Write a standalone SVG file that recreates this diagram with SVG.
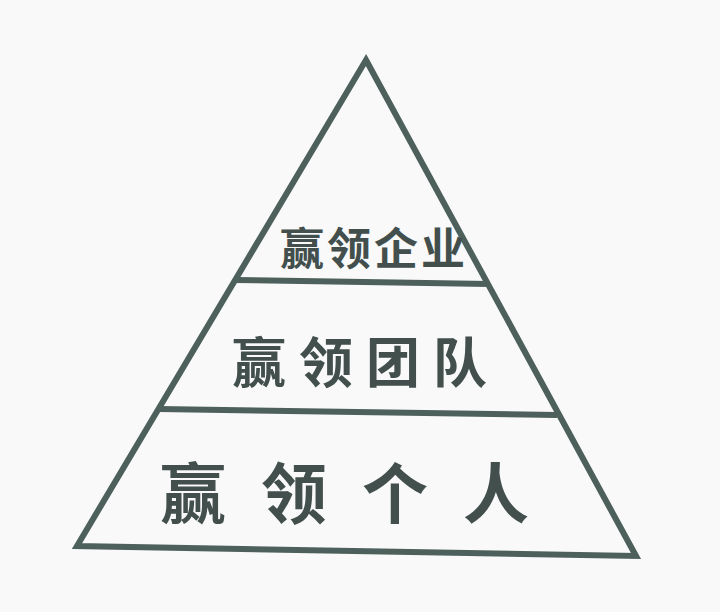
<svg xmlns="http://www.w3.org/2000/svg" width="720" height="612" viewBox="0 0 720 612">
<style>
.edge{fill:none;stroke:#4d605c;stroke-width:6;stroke-linejoin:miter}
.lbl{font-family:"Noto Sans CJK SC","Noto Sans",sans-serif;font-weight:bold;fill:#424f4d;text-anchor:middle}
</style>
<rect width="720" height="612" fill="#f8f9f8"/>
<g id="connectors">
<polygon class="edge" points="366,60 636,556 77,546"/>
<line class="edge" x1="235" y1="280" x2="489" y2="284"/>
<line class="edge" x1="159" y1="409" x2="557" y2="415"/>
</g>
<g id="top"><text class="lbl" x="374" y="265" font-size="44" letter-spacing="3">赢领企业</text></g>
<g id="middle"><text class="lbl" x="366" y="383" font-size="54" letter-spacing="13">赢领团队</text></g>
<g id="bottom"><text class="lbl" x="362" y="518" font-size="66" letter-spacing="35">赢领个人</text></g>
</svg>
